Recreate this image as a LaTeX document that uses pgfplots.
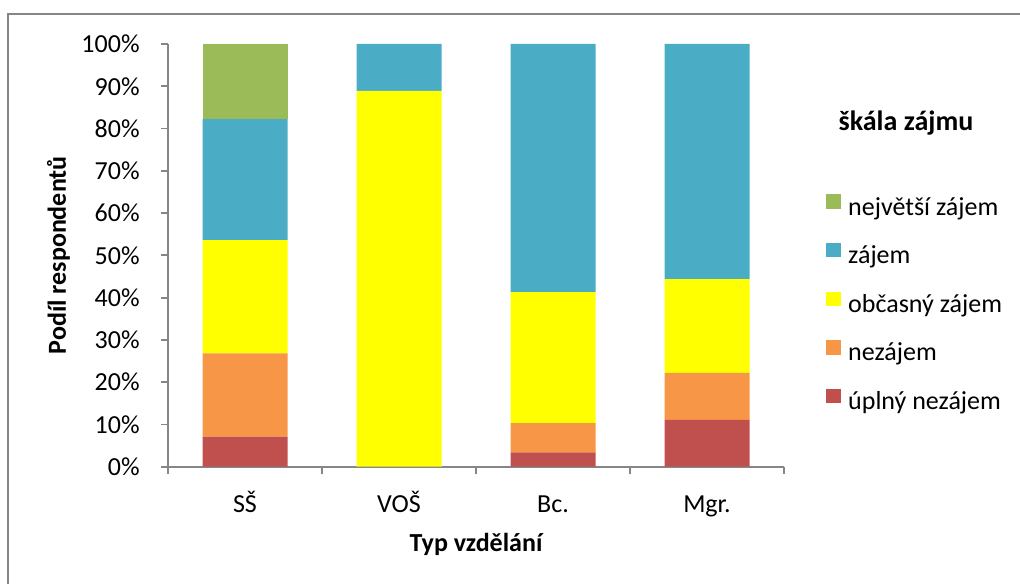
\documentclass[border=0pt]{standalone}
\usepackage{fontspec}
\setmainfont{Carlito}
\usepackage{pgfplots}
\pgfplotsset{compat=1.18}
\definecolor{cgreen}{HTML}{9BBB59}
\definecolor{cblue}{HTML}{4BACC6}
\definecolor{cyellow}{HTML}{FFFF00}
\definecolor{corange}{HTML}{F79646}
\definecolor{cred}{HTML}{C0504D}
\definecolor{axgrey}{RGB}{134,134,134}
\begin{document}
\fontsize{13}{15.6}\selectfont
\begin{tikzpicture}
\useasboundingbox (0,0) rectangle (510pt,291.5pt);
\draw[axgrey, line width=1pt] (4.15pt,-2pt) -- (4.15pt,284.25pt) -- (515pt,284.25pt);
\begin{axis}[
  at={(84pt,58.15pt)}, anchor=south west,
  scale only axis, width=308pt, height=211.35pt,
  ybar stacked, bar width=42.5pt,
  xmin=-0.5, xmax=3.5, ymin=0, ymax=100,
  clip=false,
  axis x line=bottom, axis y line=left,
  axis line style={-, axgrey, line width=0.9pt},
  xtick={0,1,2,3}, xticklabels={SŠ,VOŠ,Bc.,Mgr.},
  major x tick style={draw=none},
  minor xtick={-0.5,0.5,1.5,2.5,3.5},
  minor x tick style={axgrey, line width=0.9pt},
  minor tick length=3.5pt,
  ytick={0,10,...,100},
  yticklabels={0\%,10\%,20\%,30\%,40\%,50\%,60\%,70\%,80\%,90\%,100\%},
  ytick style={axgrey, line width=0.9pt},
  major tick length=3.5pt,
  tick align=outside,
  yticklabel style={anchor=east, inner sep=0pt, xshift=-10.5pt},
  xticklabel style={anchor=base, inner sep=0pt, yshift=-19.6pt},
  tick label style={font=\fontsize{13}{15.6}\selectfont},
  xlabel={\bfseries Typ vzdělání},
  ylabel={\bfseries Podíl respondentů},
  every axis x label/.style={at={(axis description cs:0.5,-0.185)}, anchor=center, font=\fontsize{13}{15.6}\selectfont},
  every axis y label/.style={at={(axis description cs:-0.1778,0.5)}, anchor=center, rotate=90, font=\fontsize{13}{15.6}\selectfont},
  reverse legend,
  legend image code/.code={\fill[#1] (0pt,0.4pt) rectangle (7.4pt,7.6pt);},
  legend cell align=left,
  legend style={draw=none, fill=none, inner sep=0pt, at={(1.0682,0.645)}, anchor=north west,
    /tikz/row sep=11.45pt, /tikz/column sep=3.5pt,
    nodes={inner sep=0pt, text height=8pt, text depth=2.5pt, font=\fontsize{13}{15.6}\selectfont}},
]
\addplot[fill=cred, draw=none] coordinates {(0,7.1) (1,0) (2,3.4) (3,11.1)};
\addplot[fill=corange, draw=none] coordinates {(0,19.7) (1,0) (2,6.9) (3,11.1)};
\addplot[fill=cyellow, draw=none] coordinates {(0,26.8) (1,88.9) (2,31.0) (3,22.2)};
\addplot[fill=cblue, draw=none] coordinates {(0,28.6) (1,11.1) (2,58.7) (3,55.6)};
\addplot[fill=cgreen, draw=none] coordinates {(0,17.8) (1,0) (2,0) (3,0)};
\legend{úplný nezájem,nezájem,občasný zájem,zájem,největší zájem}
\node[font=\bfseries\fontsize{14}{16}\selectfont, anchor=center] at (rel axis cs:1.198,0.8138) {škála zájmu};
\end{axis}
\end{tikzpicture}
\end{document}
